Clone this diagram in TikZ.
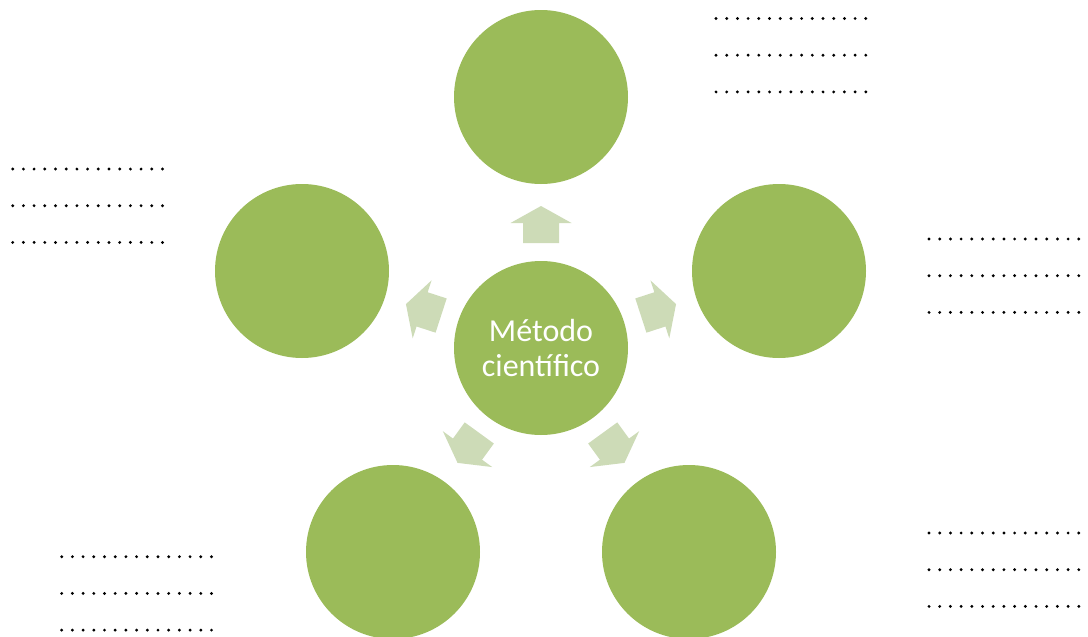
\documentclass[tikz,border=0pt]{standalone}
\usepackage{fontspec}
\setmainfont{Carlito}
\definecolor{leaf}{RGB}{155,187,89}
\definecolor{paleleaf}{RGB}{205,219,183}
\tikzset{
  bubble/.style={circle, fill=leaf, minimum size=174pt, inner sep=0pt},
  pointer/.style={fill=paleleaf, draw=none},
  leader/.style={line width=3.2pt, line cap=round, dash pattern=on 0pt off 10.7pt}
}
\begin{document}
\begin{tikzpicture}[x=1pt, y=-1pt]
  \useasboundingbox (0,0) rectangle (1088,637);
  % central idea
  \node[bubble, align=center, text=white, font=\fontsize{32}{35}\selectfont] (hub) at (541,348) {Método\\científico};
  % surrounding stages
  \node[bubble] (top) at (541,97) {};
  \node[bubble] (right) at (779,271) {};
  \node[bubble] (left) at (302,271) {};
  \node[bubble] (botleft) at (393,552) {};
  \node[bubble] (botright) at (689,552) {};
  % block arrows pointing outward from the hub
  \foreach \ang in {0,-72,-144,144,72}{
    \begin{scope}[shift={(hub.center)}, rotate=\ang]
      \fill[pointer] (0,-142) -- (30.5,-125) -- (18,-125) -- (18,-105)
        -- (-18,-105) -- (-18,-125) -- (-30.5,-125) -- cycle;
    \end{scope}
  }
  % dotted writing lines beside each stage
  \foreach \xa/\xb/\ya in {716/867/18.5, 12.7/162.7/169, 929/1079/239, 61.7/211.7/556.7, 929/1079/533}{
    \foreach \k in {0,1,2}{
      \coordinate (s) at (\xa,\ya+36.7*\k);
      \coordinate (e) at (\xb+1,\ya+36.7*\k);
      \draw[leader] (s) -- (e);
    }
  }
\end{tikzpicture}
\end{document}
